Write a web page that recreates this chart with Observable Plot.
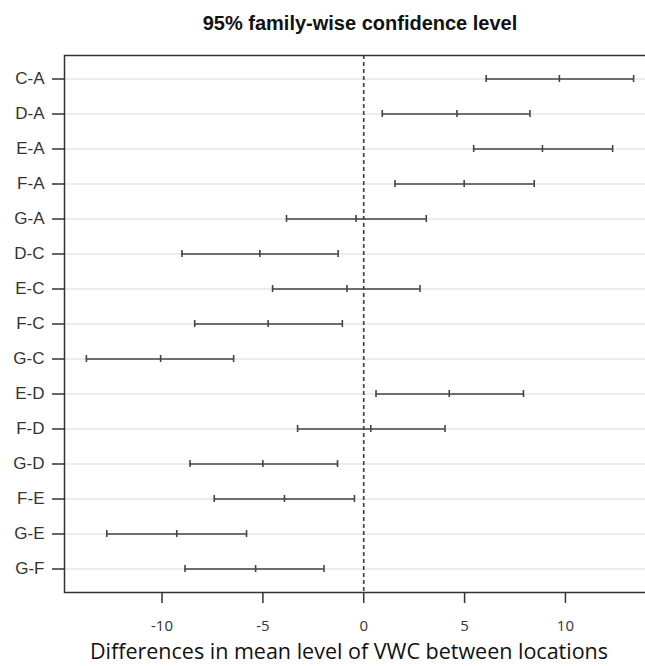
<!DOCTYPE html>
<html>
<head>
<meta charset="utf-8">
<script src="https://cdn.jsdelivr.net/npm/d3@7"></script>
<script src="https://cdn.jsdelivr.net/npm/@observablehq/plot@0.6"></script>
<style>
  html, body { margin: 0; padding: 0; background: #fff; overflow: hidden; }
  #chart svg { max-width: none !important; }
</style>
</head>
<body>
<div id="chart"></div>
<script>
const comparisons = ["C-A","D-A","E-A","F-A","G-A","D-C","E-C","F-C","G-C","E-D","F-D","G-D","F-E","G-E","G-F"];
const diffs = [9.70, 4.62, 8.86, 4.98, -0.38, -5.15, -0.83, -4.74, -10.07, 4.24, 0.35, -5.00, -3.93, -9.27, -5.36];
const lowers = [6.07, 0.92, 5.45, 1.55, -3.83, -9.01, -4.52, -8.38, -13.75, 0.61, -3.28, -8.61, -7.41, -12.74, -8.86];
const uppers = [13.38, 8.24, 12.34, 8.45, 3.10, -1.27, 2.79, -1.06, -6.45, 7.92, 4.03, -1.30, -0.46, -5.81, -1.97];
const xTicks = [-10, -5, 0, 5, 10];
const titleText = "95% family-wise confidence level";
const xLabelText = "Differences in mean level of VWC between locations";

const rows = comparisons.map((c, i) => ({comp: c, diff: diffs[i], lwr: lowers[i], upr: uppers[i]}));
const ends = rows.flatMap(r => [{comp: r.comp, v: r.lwr}, {comp: r.comp, v: r.diff}, {comp: r.comp, v: r.upr}]);

const span = d3.extent([...lowers, ...uppers]);
const pad = (span[1] - span[0]) * 0.04;

const barColor = "#444";
const chart = Plot.plot({
  width: 656,
  height: 666,
  marginLeft: 64,
  marginRight: 1,
  marginTop: 55,
  marginBottom: 74,
  style: {fontFamily: "Liberation Sans, Arial, sans-serif", fontSize: "17px"},
  x: {domain: [span[0] - pad, span[1] + pad]},
  y: {type: "band", domain: comparisons, padding: 0},
  marks: [
    Plot.ruleY(comparisons, {y: d => d, stroke: "#d9d9d9", strokeWidth: 1.2}),
    Plot.ruleX([0], {stroke: "#444", strokeWidth: 1.7, strokeDasharray: "4,3"}),
    Plot.ruleY(rows, {y: "comp", x1: "lwr", x2: "upr", stroke: barColor, strokeWidth: 1.6}),
    Plot.tickX(ends, {x: "v", y: "comp", stroke: barColor, strokeWidth: 1.6, insetTop: 14, insetBottom: 14}),
    Plot.frame({stroke: "#333", strokeWidth: 1.5}),
    Plot.axisY({tickSize: 12, tickPadding: 8, fontSize: 17, fontFamily: "Liberation Sans, Arial, sans-serif", fill: "#333", stroke: "#333", strokeWidth: 1.5, label: null}),
    Plot.axisX({ticks: xTicks, tickFormat: d => `${d}`, tickSize: 11, tickPadding: 17, fontSize: 15, fontFamily: "Open Sans, sans-serif", fill: "#333", stroke: "#333", strokeWidth: 1.5, label: null}),
    Plot.text([titleText], {text: d => d, frameAnchor: "top", dy: -32, lineAnchor: "middle", textAnchor: "middle", fontSize: 20, fontWeight: "bold", fontFamily: "Liberation Sans, Arial, sans-serif", fill: "#111"}),
    Plot.text([xLabelText], {text: d => d, frameAnchor: "bottom", dx: -11, dy: 60, lineAnchor: "middle", textAnchor: "middle", fontSize: 21.5, fontFamily: "Open Sans, sans-serif", fill: "#111"})
  ]
});
document.getElementById("chart").appendChild(chart);
</script>
</body>
</html>
